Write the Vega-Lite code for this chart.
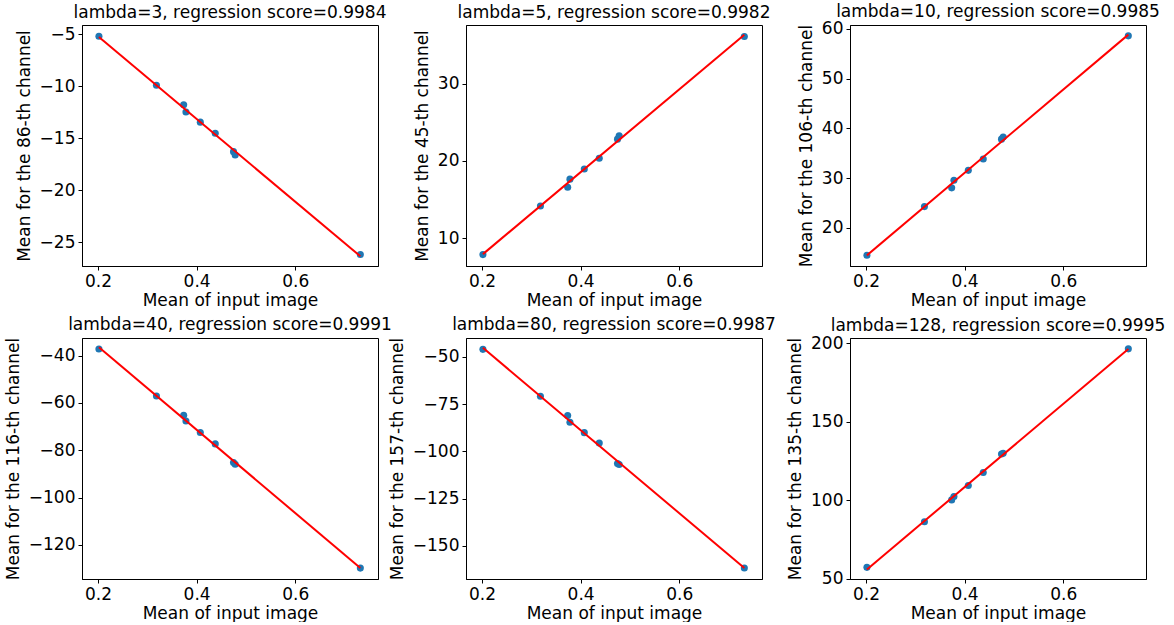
{
  "$schema": "https://vega.github.io/schema/vega-lite/v6.json",
  "padding": {"left": 3, "top": 2, "right": 5, "bottom": 0},
  "data": {"values": [
    {"panel": 1, "x": 0.202, "y": -5.18},
    {"panel": 1, "x": 0.3186, "y": -9.9},
    {"panel": 1, "x": 0.3738, "y": -11.77},
    {"panel": 1, "x": 0.3784, "y": -12.48},
    {"panel": 1, "x": 0.4075, "y": -13.45},
    {"panel": 1, "x": 0.4378, "y": -14.52},
    {"panel": 1, "x": 0.4748, "y": -16.29},
    {"panel": 1, "x": 0.4782, "y": -16.61},
    {"panel": 1, "x": 0.7319, "y": -26.19},
    {"panel": 2, "x": 0.202, "y": 7.92},
    {"panel": 2, "x": 0.3186, "y": 14.2},
    {"panel": 2, "x": 0.3738, "y": 16.62},
    {"panel": 2, "x": 0.3784, "y": 17.66},
    {"panel": 2, "x": 0.4075, "y": 18.96},
    {"panel": 2, "x": 0.4378, "y": 20.35},
    {"panel": 2, "x": 0.4748, "y": 22.82},
    {"panel": 2, "x": 0.4782, "y": 23.25},
    {"panel": 2, "x": 0.7319, "y": 36.06},
    {"panel": 3, "x": 0.202, "y": 14.5},
    {"panel": 3, "x": 0.3186, "y": 24.29},
    {"panel": 3, "x": 0.3738, "y": 28.06},
    {"panel": 3, "x": 0.3784, "y": 29.6},
    {"panel": 3, "x": 0.4075, "y": 31.58},
    {"panel": 3, "x": 0.4378, "y": 33.87},
    {"panel": 3, "x": 0.4748, "y": 37.85},
    {"panel": 3, "x": 0.4782, "y": 38.26},
    {"panel": 3, "x": 0.7319, "y": 58.62},
    {"panel": 4, "x": 0.202, "y": -37.24},
    {"panel": 4, "x": 0.3186, "y": -57.07},
    {"panel": 4, "x": 0.3738, "y": -65.26},
    {"panel": 4, "x": 0.3784, "y": -67.69},
    {"panel": 4, "x": 0.4075, "y": -72.48},
    {"panel": 4, "x": 0.4378, "y": -77.33},
    {"panel": 4, "x": 0.4748, "y": -85.22},
    {"panel": 4, "x": 0.4782, "y": -85.94},
    {"panel": 4, "x": 0.7319, "y": -129.8},
    {"panel": 5, "x": 0.202, "y": -46.0},
    {"panel": 5, "x": 0.3186, "y": -70.8},
    {"panel": 5, "x": 0.3738, "y": -81.05},
    {"panel": 5, "x": 0.3784, "y": -84.6},
    {"panel": 5, "x": 0.4075, "y": -90.07},
    {"panel": 5, "x": 0.4378, "y": -95.6},
    {"panel": 5, "x": 0.4748, "y": -106.4},
    {"panel": 5, "x": 0.4782, "y": -106.9},
    {"panel": 5, "x": 0.7319, "y": -161.7},
    {"panel": 6, "x": 0.202, "y": 57.36},
    {"panel": 6, "x": 0.3186, "y": 86.36},
    {"panel": 6, "x": 0.3738, "y": 100.26},
    {"panel": 6, "x": 0.3784, "y": 102.4},
    {"panel": 6, "x": 0.4075, "y": 109.4},
    {"panel": 6, "x": 0.4378, "y": 117.7},
    {"panel": 6, "x": 0.4748, "y": 129.45},
    {"panel": 6, "x": 0.4782, "y": 129.9},
    {"panel": 6, "x": 0.7319, "y": 196.3}
  ]},
  "columns": 3,
  "spacing": {"row": 72, "column": 88},
  "bounds": "flush",
  "concat": [
    {
      "width": 296, "height": 241,
      "title": {"text": "lambda=3, regression score=0.9984", "offset": 3},
      "transform": [{"filter": "datum.panel == 1"}],
      "layer": [
        {"mark": {"type": "circle", "size": 50, "color": "#1f77b4", "opacity": 1},
         "encoding": {
           "x": {"field": "x", "type": "quantitative", "scale": {"domain": [0.1677, 0.7677], "zero": false, "nice": false}, "axis": {"values": [0.2, 0.4, 0.6], "format": ".1f", "title": "Mean of input image"}},
           "y": {"field": "y", "type": "quantitative", "scale": {"domain": [-27.3, -4.1], "zero": false, "nice": false}, "axis": {"values": [-25, -20, -15, -10, -5], "title": "Mean for the 86-th channel"}}}},
        {"transform": [{"regression": "y", "on": "x"}],
         "mark": {"type": "line", "color": "#ff0000", "strokeWidth": 2},
         "encoding": {"x": {"field": "x", "type": "quantitative"}, "y": {"field": "y", "type": "quantitative"}}}
      ]
    },
    {
      "width": 296, "height": 241,
      "title": {"text": "lambda=5, regression score=0.9982", "offset": 3},
      "transform": [{"filter": "datum.panel == 2"}],
      "layer": [
        {"mark": {"type": "circle", "size": 50, "color": "#1f77b4", "opacity": 1},
         "encoding": {
           "x": {"field": "x", "type": "quantitative", "scale": {"domain": [0.1677, 0.7677], "zero": false, "nice": false}, "axis": {"values": [0.2, 0.4, 0.6], "format": ".1f", "title": "Mean of input image"}},
           "y": {"field": "y", "type": "quantitative", "scale": {"domain": [6.45, 37.55], "zero": false, "nice": false}, "axis": {"values": [10, 20, 30], "title": "Mean for the 45-th channel"}}}},
        {"transform": [{"regression": "y", "on": "x"}],
         "mark": {"type": "line", "color": "#ff0000", "strokeWidth": 2},
         "encoding": {"x": {"field": "x", "type": "quantitative"}, "y": {"field": "y", "type": "quantitative"}}}
      ]
    },
    {
      "width": 296, "height": 241,
      "title": {"text": "lambda=10, regression score=0.9985", "offset": -1.5},
      "transform": [{"filter": "datum.panel == 3"}],
      "layer": [
        {"mark": {"type": "circle", "size": 50, "color": "#1f77b4", "opacity": 1},
         "encoding": {
           "x": {"field": "x", "type": "quantitative", "scale": {"domain": [0.1677, 0.7677], "zero": false, "nice": false}, "axis": {"values": [0.2, 0.4, 0.6], "format": ".1f", "title": "Mean of input image"}},
           "y": {"field": "y", "type": "quantitative", "scale": {"domain": [12.35, 60.8], "zero": false, "nice": false}, "axis": {"values": [20, 30, 40, 50, 60], "title": "Mean for the 106-th channel"}}}},
        {"transform": [{"regression": "y", "on": "x"}],
         "mark": {"type": "line", "color": "#ff0000", "strokeWidth": 2},
         "encoding": {"x": {"field": "x", "type": "quantitative"}, "y": {"field": "y", "type": "quantitative"}}}
      ]
    },
    {
      "width": 296, "height": 241,
      "title": {"text": "lambda=40, regression score=0.9991", "offset": 3},
      "transform": [{"filter": "datum.panel == 4"}],
      "layer": [
        {"mark": {"type": "circle", "size": 50, "color": "#1f77b4", "opacity": 1},
         "encoding": {
           "x": {"field": "x", "type": "quantitative", "scale": {"domain": [0.1677, 0.7677], "zero": false, "nice": false}, "axis": {"values": [0.2, 0.4, 0.6], "format": ".1f", "title": "Mean of input image"}},
           "y": {"field": "y", "type": "quantitative", "scale": {"domain": [-134.4, -32.6], "zero": false, "nice": false}, "axis": {"values": [-120, -100, -80, -60, -40], "title": "Mean for the 116-th channel"}}}},
        {"transform": [{"regression": "y", "on": "x"}],
         "mark": {"type": "line", "color": "#ff0000", "strokeWidth": 2},
         "encoding": {"x": {"field": "x", "type": "quantitative"}, "y": {"field": "y", "type": "quantitative"}}}
      ]
    },
    {
      "width": 296, "height": 241,
      "title": {"text": "lambda=80, regression score=0.9987", "offset": 3},
      "transform": [{"filter": "datum.panel == 5"}],
      "layer": [
        {"mark": {"type": "circle", "size": 50, "color": "#1f77b4", "opacity": 1},
         "encoding": {
           "x": {"field": "x", "type": "quantitative", "scale": {"domain": [0.1677, 0.7677], "zero": false, "nice": false}, "axis": {"values": [0.2, 0.4, 0.6], "format": ".1f", "title": "Mean of input image"}},
           "y": {"field": "y", "type": "quantitative", "scale": {"domain": [-167.5, -40.0], "zero": false, "nice": false}, "axis": {"values": [-150, -125, -100, -75, -50], "title": "Mean for the 157-th channel"}}}},
        {"transform": [{"regression": "y", "on": "x"}],
         "mark": {"type": "line", "color": "#ff0000", "strokeWidth": 2},
         "encoding": {"x": {"field": "x", "type": "quantitative"}, "y": {"field": "y", "type": "quantitative"}}}
      ]
    },
    {
      "width": 296, "height": 241,
      "title": {"text": "lambda=128, regression score=0.9995", "offset": -0.5},
      "transform": [{"filter": "datum.panel == 6"}],
      "layer": [
        {"mark": {"type": "circle", "size": 50, "color": "#1f77b4", "opacity": 1},
         "encoding": {
           "x": {"field": "x", "type": "quantitative", "scale": {"domain": [0.1677, 0.7677], "zero": false, "nice": false}, "axis": {"values": [0.2, 0.4, 0.6], "format": ".1f", "title": "Mean of input image"}},
           "y": {"field": "y", "type": "quantitative", "scale": {"domain": [49.95, 203.2], "zero": false, "nice": false}, "axis": {"values": [50, 100, 150, 200], "title": "Mean for the 135-th channel"}}}},
        {"transform": [{"regression": "y", "on": "x"}],
         "mark": {"type": "line", "color": "#ff0000", "strokeWidth": 2},
         "encoding": {"x": {"field": "x", "type": "quantitative"}, "y": {"field": "y", "type": "quantitative"}}}
      ]
    }
  ],
  "config": {
    "font": "DejaVu Sans",
    "background": "#ffffff",
    "view": {"stroke": "#000000", "strokeWidth": 1},
    "axis": {
      "labelFontSize": 17, "titleFontSize": 17, "labelColor": "#000000", "titleColor": "#000000",
      "titleFontWeight": "normal", "tickColor": "#000000", "domainColor": "#000000", "grid": false,
      "tickSize": 4, "labelPadding": 3, "labelFont": "DejaVu Sans", "titleFont": "DejaVu Sans"
    },
    "axisX": {"titlePadding": 3},
    "axisY": {"titlePadding": 6},
    "title": {"fontSize": 17, "fontWeight": "normal", "font": "DejaVu Sans", "color": "#000000", "frame": "group", "baseline": "alphabetic"}
  }
}
